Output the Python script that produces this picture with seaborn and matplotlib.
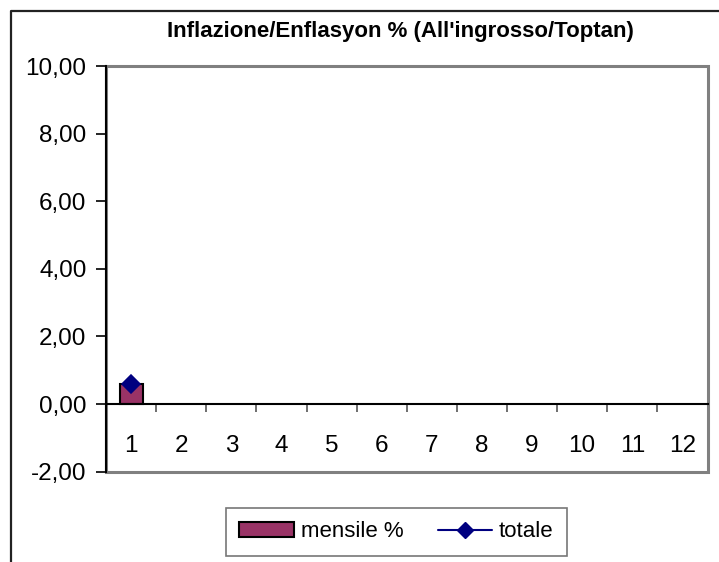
import numpy as np
import pandas as pd
import matplotlib
matplotlib.use("Agg")
import matplotlib.pyplot as plt
import seaborn as sns
from matplotlib.patches import Patch, Rectangle
from matplotlib.lines import Line2D
from matplotlib.ticker import FuncFormatter

# ---- data ----
months = ["1", "2", "3", "4", "5", "6", "7", "8", "9", "10", "11", "12"]
mensile = [0.58, np.nan, np.nan, np.nan, np.nan, np.nan, np.nan, np.nan, np.nan, np.nan, np.nan, np.nan]
totale = [0.59, np.nan, np.nan, np.nan, np.nan, np.nan, np.nan, np.nan, np.nan, np.nan, np.nan, np.nan]
y_ticks = [-2, 0, 2, 4, 6, 8, 10]
title = "Inflazione/Enflasyon % (All'ingrosso/Toptan)"
series_names = ["mensile %", "totale"]

df = pd.DataFrame({"mese": months, "mensile": mensile, "totale": totale})

sns.set_style("white")
plt.rcParams["font.family"] = ["Liberation Sans", "DejaVu Sans"]
plt.rcParams["text.color"] = "black"
plt.rcParams["xtick.color"] = "black"
plt.rcParams["ytick.color"] = "black"

W, H = 719, 562
fig = plt.figure(figsize=(W / 100, H / 100), dpi=100)
left, right, top, bottom = 106, 707.5, 66, 471.6
ax = fig.add_axes([left / W, 1 - bottom / H, (right - left) / W, (bottom - top) / H])

bar_color = "#993366"
line_color = "#000080"

sns.barplot(data=df.dropna(subset=["mensile"]), x="mese", y="mensile", order=months,
            color=bar_color, width=0.46, edgecolor="black", linewidth=1.5,
            saturation=1, ax=ax, zorder=3)
sns.pointplot(data=df.dropna(subset=["totale"]), x="mese", y="totale", order=months,
              color=line_color, markers="D", markersize=9, linewidth=1.5,
              ax=ax, zorder=4)

ax.set_xlim(-0.5, 11.5)
ax.set_ylim(-2, 10)
ax.set_xlabel("")
ax.set_ylabel("")

# y axis
ax.set_yticks(y_ticks)
ax.yaxis.set_major_formatter(FuncFormatter(lambda v, p: f"{v:.2f}".replace(".", ",")))
ax.tick_params(axis="y", which="major", direction="out", length=7, width=1.2,
               color="black", labelcolor="black", labelsize=17.5, pad=7, left=True)

# x axis at y=0
ax.spines["bottom"].set_position(("data", 0))
ax.spines["bottom"].set_color("black")
ax.spines["bottom"].set_linewidth(1.5)
ax.spines["bottom"].set_zorder(5)
ax.spines["left"].set_color("black")
ax.spines["left"].set_linewidth(1.5)
ax.spines["left"].set_zorder(6)
for s in ["top", "right"]:
    ax.spines[s].set_visible(False)

ax.set_xticks(np.arange(0.5, 11.0, 1.0))
ax.set_xticklabels([])
ax.set_xticks(np.arange(len(months)), minor=True)
ax.set_xticklabels(months, minor=True)
ax.tick_params(axis="x", which="major", direction="out", length=6, width=1.2,
               color="#555555", bottom=True)
ax.tick_params(axis="x", which="minor", length=0, labelsize=17.5, labelcolor="black",
               pad=22, bottom=True)

# plot area border
ax.add_patch(Rectangle((0, 0), 1, 1, transform=ax.transAxes, fill=False,
                       edgecolor="#808080", linewidth=2.2, clip_on=False, zorder=1))

# outer chart frame (cropped)
fig.add_artist(Line2D([11 / W, 11 / W, 1.0], [0.0, 1 - 11 / H, 1 - 11 / H],
                      color="#222222", linewidth=1.6))

# title
fig.text(400 / W, 1 - 32 / H, title, ha="center", va="center",
         fontsize=16, fontweight="bold", color="black")

# legend
handles = [Patch(facecolor=bar_color, edgecolor="black", linewidth=1.5),
           Line2D([0], [0], color=line_color, marker="D", markersize=8, linewidth=1.5)]
leg = fig.legend(handles, series_names, loc="upper left",
                 bbox_to_anchor=(225.7 / W, 1 - 507.7 / H), bbox_transform=fig.transFigure,
                 ncol=2, frameon=True, fancybox=False, fontsize=16,
                 handlelength=2.45, handleheight=0.66, handletextpad=0.3,
                 columnspacing=1.55, borderpad=0.62, borderaxespad=0)
leg.get_frame().set_edgecolor("#555555")
leg.get_frame().set_linewidth(1.2)

fig.savefig("out.png", dpi=100)
